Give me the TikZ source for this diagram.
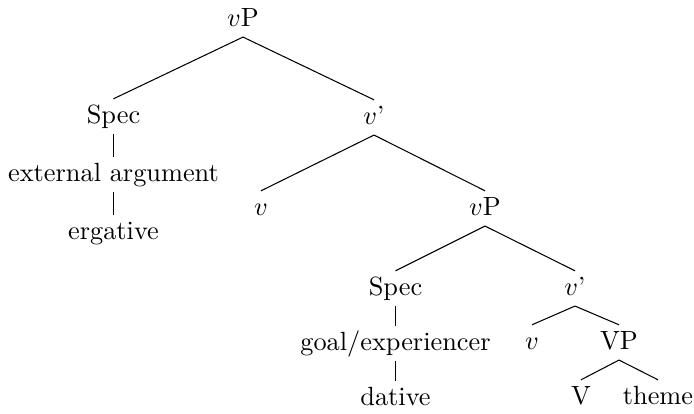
\documentclass[tikz,border=0pt]{standalone}
\begin{document}
\begin{tikzpicture}[x=0.38pt,y=-0.38pt,
  lbl/.style={anchor=base,inner sep=0pt,text height=7pt,text depth=2pt},
  br/.style={line width=0.4pt}]
\useasboundingbox (0,0) rectangle (694,413);
\node[lbl] (vP1) at (243,26) {$v$P};
\node[lbl] (spec1) at (113.5,123) {Spec};
\node[lbl] (vbar1) at (374,124) {$v$'};
\node[lbl] (ext) at (113.5,181) {external argument};
\node[lbl] (erg) at (113.5,239) {ergative};
\node[lbl] (v1) at (261,215) {$v$};
\node[lbl] (vP2) at (485,215) {$v$P};
\node[lbl] (spec2) at (395.5,295) {Spec};
\node[lbl] (vbar2) at (575,295) {$v$'};
\node[lbl] (goal) at (395.5,350) {goal/experiencer};
\node[lbl] (dat) at (395.5,405) {dative};
\node[lbl] (v2) at (532,349) {$v$};
\node[lbl] (VP) at (619,349) {VP};
\node[lbl] (V) at (581,404) {V};
\node[lbl] (theme) at (658,404) {theme};
\foreach \a/\b in {vP1/spec1,vP1/vbar1,spec1/ext,ext/erg,vbar1/v1,vbar1/vP2,
  vP2/spec2,vP2/vbar2,spec2/goal,goal/dat,vbar2/v2,vbar2/VP,VP/V,VP/theme}
  \draw[br] ([yshift=-2pt]\a.south) -- ([yshift=2pt]\b.north);
\end{tikzpicture}
\end{document}
